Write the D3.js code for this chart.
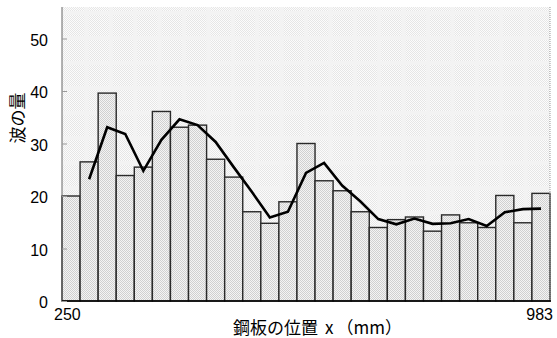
<!DOCTYPE html>
<html><head><meta charset="utf-8">
<script src="https://cdn.jsdelivr.net/npm/d3@7"></script>
<style>body{margin:0;background:#fff}svg{display:block}</style>
</head><body>
<svg id="c" width="557" height="338"></svg>
<script>
const categories = d3.range(27).map(i => "p" + (i + 1));
const barValues = [20.0, 26.5, 39.6, 23.9, 25.5, 36.1, 33.1, 33.5, 27.0, 23.6, 17.0, 14.8, 18.9, 30.0, 22.9, 21.0, 17.0, 14.0, 15.5, 16.0, 13.3, 16.4, 14.9, 14.0, 20.1, 14.9, 20.5];
const lineCategories = categories.slice(1);
const lineValues = [23.2, 33.1, 31.8, 24.8, 30.7, 34.6, 33.5, 30.3, 25.5, 20.8, 15.9, 17.0, 24.4, 26.3, 22.0, 19.0, 15.6, 14.6, 15.7, 14.7, 14.8, 15.6, 14.3, 16.9, 17.5, 17.6];
const yTicks = [0, 10, 20, 30, 40, 50];
const xTickLabels = ["250", "983"];
const xTitleParts = ["鋼板の位置", "x", "（mm）"];
const yTitle = "波の量";

const L = 62, R = 550, T = 7, B = 301;
const svg = d3.select("#c");
const x = d3.scaleBand().domain(categories).range([L, R]).padding(0);
const y = d3.scaleLinear().domain([0, 56]).range([B, T]);

const defs = svg.append("defs");
function checker(id, base, dot) {
  const p = defs.append("pattern").attr("id", id).attr("patternUnits", "userSpaceOnUse")
    .attr("width", 2).attr("height", 2);
  p.append("rect").attr("width", 2).attr("height", 2).attr("fill", base);
  p.append("rect").attr("x", 0).attr("y", 0).attr("width", 1).attr("height", 1).attr("fill", dot);
  p.append("rect").attr("x", 1).attr("y", 1).attr("width", 1).attr("height", 1).attr("fill", dot);
}
checker("bg", "#fcfcfc", "#e6e6e6");
checker("bar", "#f4f4f4", "#d0d0d0");

// plot background
svg.append("rect").attr("x", L).attr("y", T).attr("width", R - L).attr("height", B - T)
  .attr("fill", "url(#bg)").attr("shape-rendering", "crispEdges");
// moire-like light bands
const bandG = svg.append("g").attr("stroke", "#f4f4f4").attr("stroke-width", 4).attr("opacity", 0.9);
const vStep = (R - L) / 20;
bandG.selectAll("line.v").data(d3.range(1, 20)).join("line")
  .attr("x1", d => L + d * vStep).attr("x2", d => L + d * vStep).attr("y1", T).attr("y2", B);
const hStep = 25;
bandG.selectAll("line.h").data(d3.range(0, 12)).join("line")
  .attr("y1", d => T + 6 + d * hStep).attr("y2", d => T + 6 + d * hStep).attr("x1", L).attr("x2", R);

// bars
svg.append("g").selectAll("rect").data(barValues).join("rect")
  .attr("x", (d, i) => x(categories[i]))
  .attr("y", d => y(d))
  .attr("width", x.bandwidth())
  .attr("height", d => y(0) - y(d))
  .attr("fill", "url(#bar)")
  .attr("stroke", "#2a2a2a").attr("stroke-width", 1.4);

// line
const line = d3.line().x((d, i) => x(lineCategories[i]) + x.bandwidth() / 2).y(d => y(d));
svg.append("path").datum(lineValues).attr("d", line)
  .attr("fill", "none").attr("stroke", "#000").attr("stroke-width", 2.6).attr("stroke-linejoin", "miter");

// axes
svg.append("line").attr("x1", L).attr("x2", L).attr("y1", T).attr("y2", B).attr("stroke", "#666").attr("stroke-width", 1);
svg.append("line").attr("x1", R).attr("x2", R).attr("y1", T).attr("y2", B)
  .attr("stroke", "#999").attr("stroke-width", 1).attr("stroke-dasharray", "1,1");
svg.append("line").attr("x1", L).attr("x2", R + 1).attr("y1", B).attr("y2", B).attr("stroke", "#000").attr("stroke-width", 1.5);

const yAxis = d3.axisLeft(y).tickValues(yTicks).tickSize(-5).tickPadding(14).tickFormat(d3.format("d"));
const ga = svg.append("g").attr("transform", `translate(${L},0)`).call(yAxis);
ga.select(".domain").remove();
ga.selectAll(".tick line").attr("stroke", "#999");
ga.selectAll(".tick text").attr("font-family", "'Liberation Sans', Arial, sans-serif")
  .attr("font-size", 16).attr("fill", "#000").attr("dy", "0.42em");

// x labels
svg.append("text").attr("x", x(categories[0]) - 8).attr("y", 320).attr("text-anchor", "start")
  .attr("font-family", "'Liberation Sans', Arial, sans-serif").attr("font-size", 16).text(xTickLabels[0]);
svg.append("text").attr("x", x(categories[categories.length - 1]) + x.bandwidth() + 3).attr("y", 320).attr("text-anchor", "end")
  .attr("font-family", "'Liberation Sans', Arial, sans-serif").attr("font-size", 16).text(xTickLabels[1]);

// titles
const xt = svg.append("text").attr("x", 233).attr("y", 334).attr("text-anchor", "start")
  .attr("font-family", "'Noto Sans CJK JP', sans-serif").attr("font-size", 17);
xt.append("tspan").text(xTitleParts[0]);
xt.append("tspan").attr("dx", 7).text(xTitleParts[1]);
xt.append("tspan").attr("dx", 3).text(xTitleParts[2]);
svg.append("text").attr("transform", "translate(16,118) rotate(-90)").attr("text-anchor", "middle")
  .attr("dominant-baseline", "central")
  .attr("font-family", "'Noto Sans CJK JP', sans-serif").attr("font-size", 17).text(yTitle);
</script>
</body></html>
